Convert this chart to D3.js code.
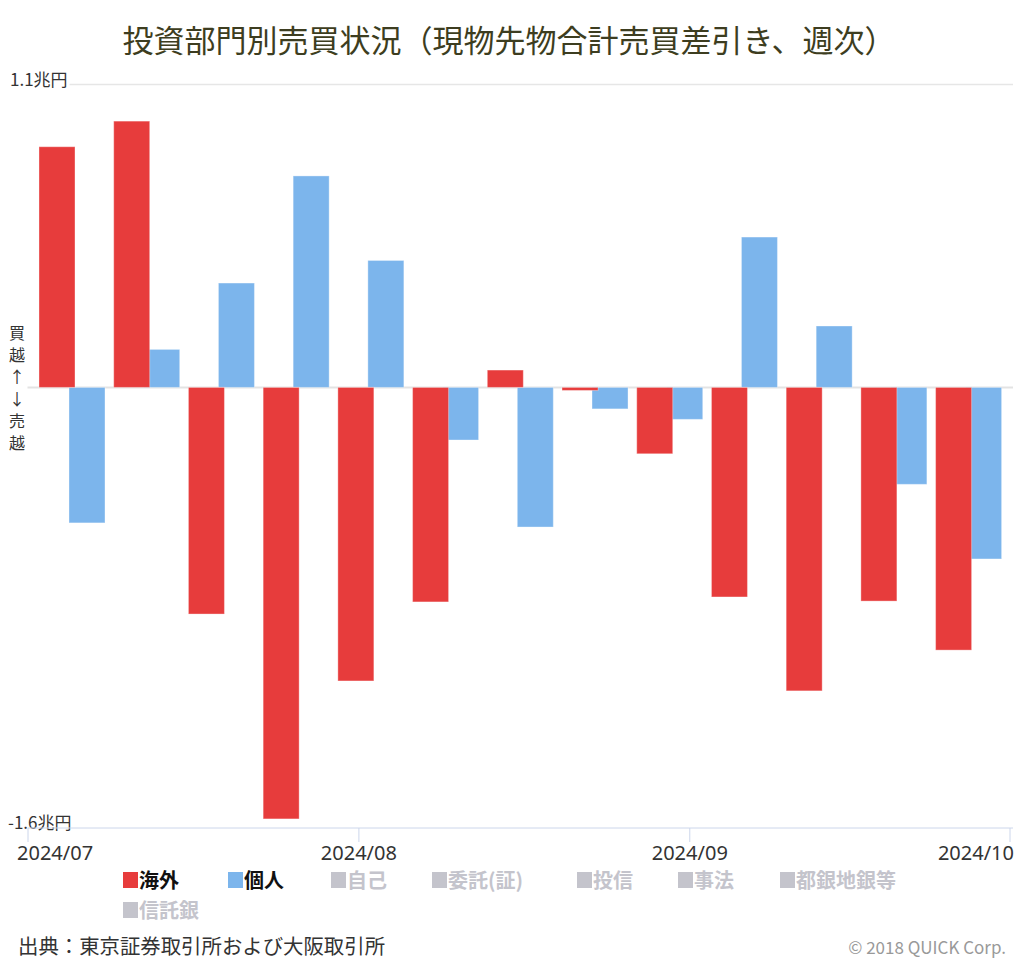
<!DOCTYPE html>
<html><head><meta charset="utf-8">
<script src="https://cdn.jsdelivr.net/npm/d3@7"></script>
<style>
body{margin:0;background:#fff}
svg{display:block;font-family:"Noto Sans CJK JP","Noto Sans",sans-serif}
</style>
</head><body><svg id="c" width="1024" height="964"></svg>
<script>
// ---- data ----
const weeks = ["2024-07-05","2024-07-12","2024-07-19","2024-07-26","2024-08-02","2024-08-09","2024-08-16","2024-08-23","2024-08-30","2024-09-06","2024-09-13","2024-09-20","2024-09-27"];
const overseas   = [0.874, 0.967, -0.823, -1.567, -1.066, -0.779, 0.063, -0.011, -0.241, -0.761, -1.102, -0.776, -0.954];
const individual = [-0.492, 0.138, 0.379, 0.768, 0.461, -0.191, -0.507, -0.078, -0.116, 0.546, 0.223, -0.352, -0.623];
const legendNames = ["海外","個人","自己","委託(証)","投信","事法","都銀地銀等","信託銀"];
const legendVisible = [true, true, false, false, false, false, false, false];
const xTickDates = ["2024-07-01","2024-08-01","2024-09-01","2024-10-01"];
const xTickLabels = ["2024/07","2024/08","2024/09","2024/10"];
const yTickValues = [1.1, -1.6];
const yTickLabels = ["1.1兆円","-1.6兆円"];
const yTitleChars = ["買","越","↑","↓","売","越"];
const titleText = "投資部門別売買状況（現物先物合計売買差引き、週次）";
const sourceText = "出典：東京証券取引所および大阪取引所";
const creditText = "© 2018 QUICK Corp.";

// ---- layout ----
const colors = {overseas:"#e73c3c", individual:"#7cb5ec", hidden:"#c4c4cc", axis:"#ccd6eb", grid:"#e6e6e6", text:"#333"};
const plotL = 27.5, plotR = 1013;
const legendX = [123, 228, 331, 432, 577, 678, 780, 123];
const legendRow = [0, 0, 0, 0, 0, 0, 0, 1];
const svg = d3.select("#c");
const parse = d3.utcParse("%Y-%m-%d");

const x = d3.scaleUtc().domain([parse(xTickDates[0]), parse(xTickDates[3])]).range([27.5, 1009.5]);
const y = d3.scaleLinear().domain([-1.6, 1.1]).range([828, 84.5]);

// title
svg.append("text").attr("x", 509).attr("y", 52).attr("text-anchor","middle")
  .attr("font-size", 31).attr("fill", "#3d3d20").text(titleText);

// gridlines
svg.append("line").attr("x1", plotL).attr("x2", plotR).attr("y1", y(1.1)).attr("y2", y(1.1))
  .attr("stroke", colors.grid).attr("stroke-width", 1.5);
svg.append("line").attr("x1", plotL).attr("x2", plotR).attr("y1", y(0)).attr("y2", y(0))
  .attr("stroke", "#e3e3e3").attr("stroke-width", 2);

// y labels
yTickValues.forEach((v, i) => {
  const t = svg.append("text").attr("x", i === 0 ? 10 : 8).attr("y", y(v) + 1).attr("font-size", 17)
    .attr("fill", colors.text).text(yTickLabels[i]);
  if (i === 0) {
    const bb = t.node().getBBox();
    svg.insert("rect", "text:last-of-type").attr("x", bb.x).attr("y", bb.y).attr("width", bb.width + 2).attr("height", bb.height).attr("fill", "#fff");
    t.raise();
  }
});

// y title stacked
const yt = svg.append("text").attr("font-size", 16).attr("fill", colors.text).attr("text-anchor", "middle");
yTitleChars.forEach((c, i) => {
  yt.append("tspan").attr("x", 17).attr("y", 339 + i * 22).text(c);
});

// bars
const group = svg.append("g");
const offset = 1.8, barW = 36;
group.selectAll(".ind").data(weeks).join("rect")
  .attr("x", (d) => x(parse(d)) + offset - 3)
  .attr("width", barW)
  .attr("y", (d, i) => y(Math.max(0, individual[i])))
  .attr("height", (d, i) => Math.abs(y(individual[i]) - y(0)))
  .attr("fill", colors.individual).attr("stroke", "#fff").attr("stroke-opacity", 0.35).attr("stroke-width", 1);
group.selectAll(".ovs").data(weeks).join("rect")
  .attr("x", (d) => x(parse(d)) + offset - 33)
  .attr("width", barW)
  .attr("y", (d, i) => y(Math.max(0, overseas[i])))
  .attr("height", (d, i) => Math.abs(y(overseas[i]) - y(0)))
  .attr("fill", colors.overseas).attr("stroke", "#fff").attr("stroke-opacity", 0.35).attr("stroke-width", 1);

// x axis
const xAxis = d3.axisBottom(x).tickValues(xTickDates.map(parse))
  .tickFormat((d, i) => xTickLabels[i]).tickSize(14).tickSizeOuter(0);
const ax = svg.append("g").attr("transform", `translate(0,${y(-1.6)})`).call(xAxis);
ax.select(".domain").remove();
ax.append("line").attr("x1", plotL).attr("x2", plotR).attr("y1", 0).attr("y2", 0).attr("stroke", colors.axis);
ax.selectAll(".tick line").attr("stroke", colors.axis);
ax.selectAll(".tick text").attr("font-size", 20).attr("fill", colors.text)
  .attr("font-family", '"Noto Sans","Noto Sans CJK JP",sans-serif').attr("y", 32).attr("dy", 0);
ax.selectAll(".tick text").filter((d, i) => i === 0).attr("text-anchor", "start").attr("dx", -11);
ax.selectAll(".tick text").filter((d, i) => i === xTickLabels.length - 1).attr("text-anchor", "end").attr("dx", 4);

// legend
const legend = svg.append("g");
legendNames.forEach((n, i) => {
  const g = legend.append("g").attr("transform", `translate(${legendX[i]},${880 + legendRow[i] * 30})`);
  const col = i === 0 ? colors.overseas : i === 1 ? colors.individual : colors.hidden;
  g.append("rect").attr("width", 15).attr("height", 16).attr("y", -8).attr("fill", col);
  g.append("text").attr("x", 16).attr("y", 7.5).attr("font-size", 20).attr("font-weight", "bold")
    .attr("fill", legendVisible[i] ? "#111" : colors.hidden).text(n);
});

// footer
svg.append("text").attr("x", 18).attr("y", 954).attr("font-size", 20.4).attr("fill", colors.text).text(sourceText);
svg.append("text").attr("x", 1006).attr("y", 954).attr("text-anchor", "end").attr("font-size", 17).attr("fill", "#999").text(creditText);
</script>
</body></html>
